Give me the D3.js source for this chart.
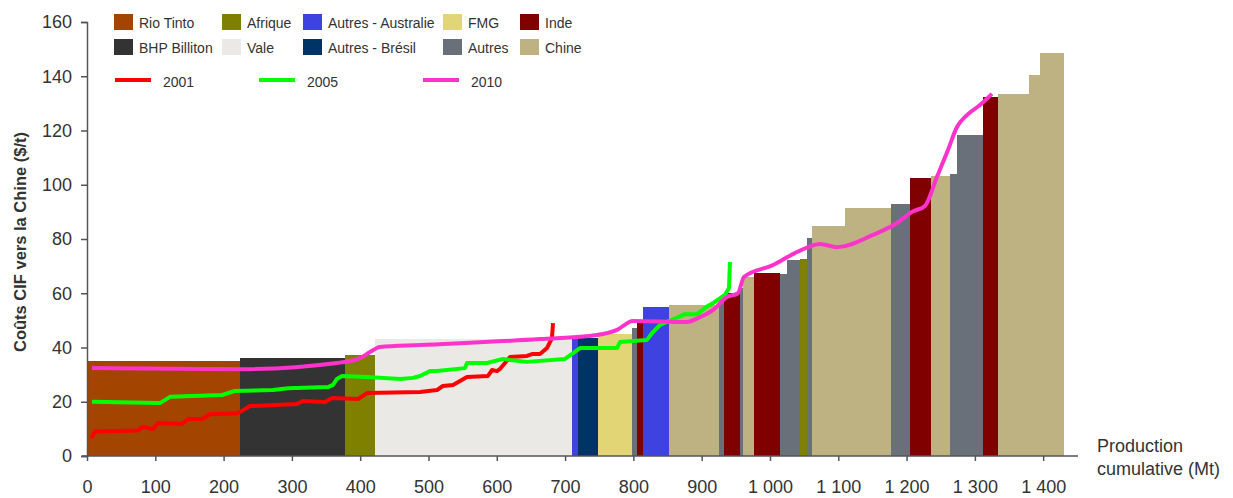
<!DOCTYPE html>
<html>
<head>
<meta charset="utf-8">
<script src="https://cdn.jsdelivr.net/npm/d3@7"></script>
<style>
  body { margin: 0; background: #fff; }
  svg { font-family: "Liberation Sans", Arial, sans-serif; }
  .tick text { fill: #333; font-size: 18px; }
  .domain, .tick line { stroke: #555; stroke-width: 1.5px; }
  .legend-text { fill: #333; font-size: 14px; }
</style>
</head>
<body>
<svg id="chart" width="1233" height="498"></svg>
<script>
// producers, one per bar, in cost order
var producers = ["Rio Tinto","BHP Billiton","Afrique","Vale","Autres - Australie","Autres - Brésil","FMG","Autres","Inde",
  "Autres - Australie","Chine","Autres","Inde","Autres","Chine","Inde","Autres","Autres","Afrique","Autres",
  "Chine","Chine","Autres","Inde","Chine","Autres","Autres","Inde","Chine","Chine","Chine"];
// production of each bar (Mt)
var widths = [224,154,44,288,9,29,50,7,9,
  38,73,7,24,4,17,37,11,19,10,8,
  48,67,28,31,28,10,38,22,45,16,35];
// CIF cost to China ($/t)
var costs = [35,36,37.2,43,43,43.5,45,47.2,49,
  55,55.7,57,60,62,66,67.5,67,72.3,72.6,80.4,
  84.8,91.4,92.9,102.5,103.2,104,118.3,132.3,133.5,140.5,148.6];

// legend order
var legendNames = ["Rio Tinto","BHP Billiton","Afrique","Vale","Autres - Australie","Autres - Brésil","FMG","Autres","Inde","Chine"];
var legendColors = ["#a34400","#333333","#808000","#eae9e5","#3e42e0","#003366","#e1d576","#6a707a","#800000","#beb283"];

// cost curves
var years = ["2001","2005","2010"];
var yearColors = ["#ff0000","#00ff00","#ff33cc"];
var prod2001 = [7,7.3,11.7,74.7,82,96.6,104,139,147.9,168.4,180,221,238.7,307.5,316,348.5,358.7,396.8,410,487.6,512.4,521,535.9,556.4,587.1,593,600.3,604.7,619.3,644.2,651.5,663.3,673.5,680.8,682.3];
var cost2001 = [6.5,7,9,9.4,10.8,9.9,12.2,11.8,13.6,13.6,15.4,15.8,18.4,19.2,20.3,19.9,21.4,21,23.2,23.6,24.3,25.8,26.2,29.1,29.5,31.7,31.3,32.1,36.5,36.9,37.6,37.6,39.8,43.5,49];
var prod2005 = [7.3,106.9,121.5,197.7,216.7,272.3,294.3,352.9,360.2,366,373.4,410,458.3,477.3,487.6,502.2,512.4,553.4,556.4,585.7,609.1,619.3,644.2,699.9,721.8,776,780.4,819.9,828.7,839,875.5,893.1,907,917,934.1,940,941.4];
var cost2005 = [20,19.5,21.8,22.5,24,24.3,25,25.4,26.2,28.4,29.5,29.1,28.4,28.8,29.5,31.3,31.3,32.4,34.3,34.3,35.8,35.4,34.7,35.8,39.8,39.8,42,42.8,45.7,48.3,52.3,52.3,55,56.4,59.4,61.9,71.5];
var prod2010 = [7.3,224,366,399.7,414.3,429,487.6,663.3,746.7,776,799.4,878.5,897.5,916.5,937,953.1,961.9,1004.4,1039.5,1073.2,1098,1150.8,1185.9,1207.9,1226.9,1244.5,1260.6,1273.8,1288.4,1307.5,1325];
var cost2010 = [32.4,32,34.3,36.1,38.3,40.2,40.9,43.1,44.6,46.5,49.8,49.4,51.2,53.8,58.6,60,66,70.4,75.2,78.2,77,81.5,85.9,90,92.2,102.9,112.8,121.3,125.7,129.4,133.5];

var xTicks = [0,100,200,300,400,500,600,700,800,900,1000,1100,1200,1300,1400];
var yTicks = [0,20,40,60,80,100,120,140,160];

var svg = d3.select("#chart");
var x = d3.scaleLinear().domain([0,1451]).range([87,1078]);
var y = d3.scaleLinear().domain([0,160]).range([456,22]);
var color = d3.scaleOrdinal().domain(legendNames).range(legendColors);

var ends = d3.cumsum(widths);
var bars = producers.map(function(p,i){
  return {name: p, x0: ends[i]-widths[i], x1: ends[i], cost: costs[i]};
});

//Bars
svg.append("g").selectAll("rect")
  .data(bars)
  .enter()
  .append("rect")
  .attr("x", function(d){ return x(d.x0); })
  .attr("width", function(d){ return x(d.x1)-x(d.x0); })
  .attr("y", function(d){ return y(d.cost); })
  .attr("height", function(d){ return y(0)-y(d.cost); })
  .attr("fill", function(d){ return color(d.name); })
  .attr("shape-rendering","crispEdges");

//Axes
var fmt = d3.formatLocale({decimal: ",", thousands: " ", grouping: [3], currency: ["","$"]}).format(",d");
var xAxis = svg.append("g")
  .attr("transform","translate(0,"+y(0)+")")
  .call(d3.axisBottom(x).tickValues(xTicks).tickFormat(fmt).tickSizeOuter(0).tickSize(5).tickPadding(19));
xAxis.select(".domain").attr("d","M82,0H1078");

svg.append("g")
  .attr("transform","translate("+x(0)+",0)")
  .call(d3.axisLeft(y).tickValues(yTicks).tickSizeOuter(0).tickSize(6).tickPadding(9));

//Lines
var series = [[prod2001,cost2001],[prod2005,cost2005],[prod2010,cost2010]];
var line = d3.line()
  .x(function(d){ return x(d[0]); })
  .y(function(d){ return y(d[1]); });
series.forEach(function(s,k){
  var pts = s[0].map(function(v,i){ return [v, s[1][i]]; });
  line.curve(k==2 ? d3.curveMonotoneX : d3.curveLinear);
  svg.append("path")
    .datum(pts)
    .attr("d", line)
    .attr("fill","none")
    .attr("stroke", yearColors[k])
    .attr("stroke-width",4)
    .attr("stroke-linejoin","round");
});

//Axis titles
svg.append("text")
  .attr("transform","translate(26,242) rotate(-90)")
  .attr("text-anchor","middle")
  .attr("font-size","16.5px")
  .attr("font-weight","bold")
  .attr("fill","#333")
  .text("Coûts CIF vers la Chine ($/t)");
var xt = svg.append("text").attr("font-size","18px").attr("fill","#333");
xt.append("tspan").attr("x",1097).attr("y",452).text("Production");
xt.append("tspan").attr("x",1097).attr("y",475).text("cumulative (Mt)");

//Legend
var colX = [114,222,303,443,520];
var legend = svg.append("g");
legendNames.forEach(function(n,i){
  var col = Math.floor(i/2), row = i%2;
  legend.append("rect")
    .attr("x", colX[col]).attr("y", 14+row*25)
    .attr("width",19).attr("height",16)
    .attr("fill", legendColors[i]);
  legend.append("text")
    .attr("class","legend-text")
    .attr("x", colX[col]+25).attr("y", 28+row*25)
    .text(n);
});
var lineX = [115,259,423];
years.forEach(function(yr,i){
  legend.append("line")
    .attr("x1", lineX[i]).attr("x2", lineX[i]+36)
    .attr("y1",80).attr("y2",80)
    .attr("stroke", yearColors[i]).attr("stroke-width",4);
  legend.append("text")
    .attr("class","legend-text")
    .attr("x", lineX[i]+48).attr("y",87)
    .text(yr);
});
</script>
</body>
</html>
